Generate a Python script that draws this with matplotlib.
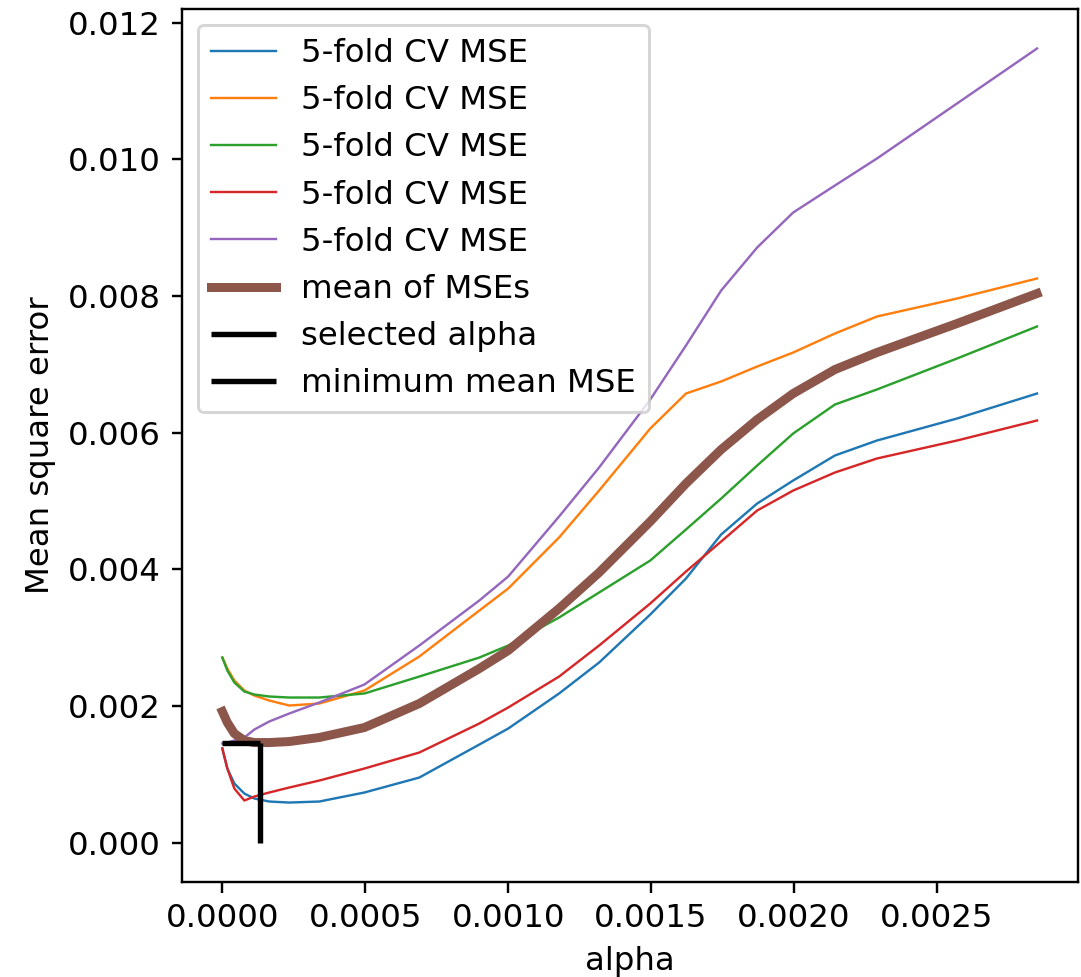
import numpy as np
import matplotlib
matplotlib.use("Agg")
import matplotlib.pyplot as plt

plt.rcParams["font.size"] = 10.8

# alpha grid
alphas = np.array([
    0.0, 0.0175, 0.042, 0.077, 0.112, 0.164, 0.234, 0.339, 0.497, 0.689,
    0.899, 1.0, 1.178, 1.318, 1.497, 1.622, 1.745, 1.871, 1.997, 2.143,
    2.290, 2.570, 2.850,
]) * 1e-3

# MSE of each fold (x 1e-3)
fold_1 = np.array([
    1.376, 1.083, 0.863, 0.717, 0.644, 0.600, 0.585, 0.600, 0.732, 0.951,
    1.434, 1.668, 2.181, 2.634, 3.337, 3.864, 4.508, 4.961, 5.298, 5.664,
    5.883, 6.205, 6.571,
]) * 1e-3
fold_2 = np.array([
    2.707, 2.546, 2.371, 2.224, 2.151, 2.078, 2.005, 2.034, 2.224, 2.722,
    3.395, 3.717, 4.464, 5.151, 6.059, 6.571, 6.747, 6.966, 7.171, 7.449,
    7.698, 7.961, 8.254,
]) * 1e-3
fold_3 = np.array([
    2.707, 2.517, 2.342, 2.210, 2.166, 2.137, 2.122, 2.122, 2.181, 2.429,
    2.707, 2.883, 3.293, 3.659, 4.127, 4.581, 5.034, 5.517, 5.986, 6.410,
    6.630, 7.083, 7.552,
]) * 1e-3
fold_4 = np.array([
    1.376, 1.083, 0.790, 0.615, 0.673, 0.732, 0.805, 0.907, 1.083, 1.317,
    1.742, 1.976, 2.429, 2.883, 3.498, 3.966, 4.405, 4.859, 5.151, 5.415,
    5.620, 5.883, 6.176,
]) * 1e-3
fold_5 = np.array([
    1.449, 1.463, 1.493, 1.537, 1.654, 1.771, 1.888, 2.049, 2.312, 2.883,
    3.542, 3.893, 4.771, 5.488, 6.483, 7.274, 8.078, 8.708, 9.220, 9.615,
    10.010, 10.815, 11.620,
]) * 1e-3

mean_mse = np.array([
    1.917, 1.756, 1.595, 1.493, 1.463, 1.463, 1.478, 1.537, 1.683, 2.034,
    2.546, 2.810, 3.425, 3.951, 4.698, 5.254, 5.751, 6.190, 6.571, 6.922,
    7.171, 7.595, 8.034,
]) * 1e-3

selected_alpha = 0.000133
min_mean_mse = 0.00145

folds = [fold_1, fold_2, fold_3, fold_4, fold_5]

fig = plt.figure(figsize=(1081 / 216, 977 / 216), dpi=216)
ax = fig.add_axes([0.168, 0.097, 0.829, 0.894])

for fold in folds:
    ax.plot(alphas, fold, linewidth=0.8, label="5-fold CV MSE")

ax.plot(alphas, mean_mse, color="C5", linewidth=3, label="mean of MSEs")
ax.vlines(selected_alpha, 0, min_mean_mse, color="black", linewidth=1.8,
          label="selected alpha")
ax.hlines(min_mean_mse, 0, selected_alpha, color="black", linewidth=1.8,
          label="minimum mean MSE")

ax.set_xlabel("alpha")
ax.set_ylabel("Mean square error")
ax.legend(loc="upper left")

fig.savefig("out.png", dpi=216)
